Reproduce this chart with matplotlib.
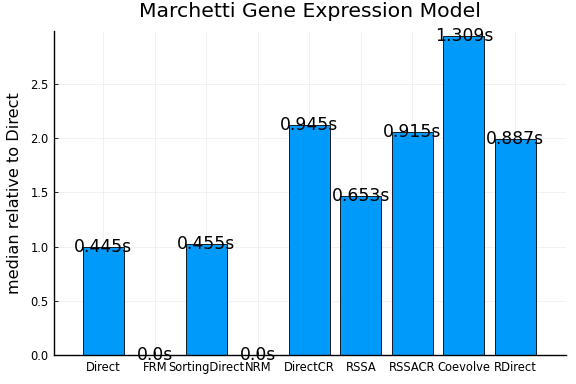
import matplotlib
matplotlib.use("Agg")
import matplotlib.pyplot as plt
import numpy as np

methods = ["Direct", "FRM", "SortingDirect", "NRM", "DirectCR", "RSSA", "RSSACR", "Coevolve", "RDirect"]
median_seconds = [0.445, 0.0, 0.455, 0.0, 0.945, 0.653, 0.915, 1.309, 0.887]
y_ticks = [0.0, 0.5, 1.0, 1.5, 2.0, 2.5]

BAR_COLOR = "#009afa"


def main():
    baseline = median_seconds[0]
    relative = [t / baseline for t in median_seconds]
    positions = np.arange(1, len(methods) + 1)

    fig = plt.figure(figsize=(5.76, 3.84), dpi=100)
    ax = fig.add_axes([0.0943, 0.0755, 0.889, 0.8445])

    ax.bar(positions, relative, width=0.8, color=BAR_COLOR, edgecolor="black", linewidth=0.6, zorder=2)
    for x, r, t in zip(positions, relative, median_seconds):
        ax.text(x, r, f"{t}s", ha="center", va="center", fontsize=12.4, color="black", zorder=3)

    ax.set_xlim(0.05, 9.99)
    ax.set_ylim(0, 2.99)
    ax.set_xticks(positions)
    ax.set_xticklabels(methods, fontsize=8.3)
    ax.set_yticks(y_ticks)
    ax.set_yticklabels([f"{v:.1f}" for v in y_ticks], fontsize=8.3)
    ax.tick_params(direction="in", length=3, width=0.6, colors="black", pad=4)
    ax.grid(True, color="#ebebeb", linewidth=0.5, zorder=0)
    ax.set_axisbelow(True)

    for side in ["top", "right"]:
        ax.spines[side].set_visible(False)
    for side in ["left", "bottom"]:
        ax.spines[side].set_linewidth(1.0)
        ax.spines[side].set_color("black")

    ax.set_ylabel("median relative to Direct", fontsize=11.6, labelpad=6)
    ax.set_title("Marchetti Gene Expression Model", fontsize=14.7, pad=9.6)

    fig.savefig("out.png", dpi=100)
    plt.close(fig)


if __name__ == "__main__":
    main()
